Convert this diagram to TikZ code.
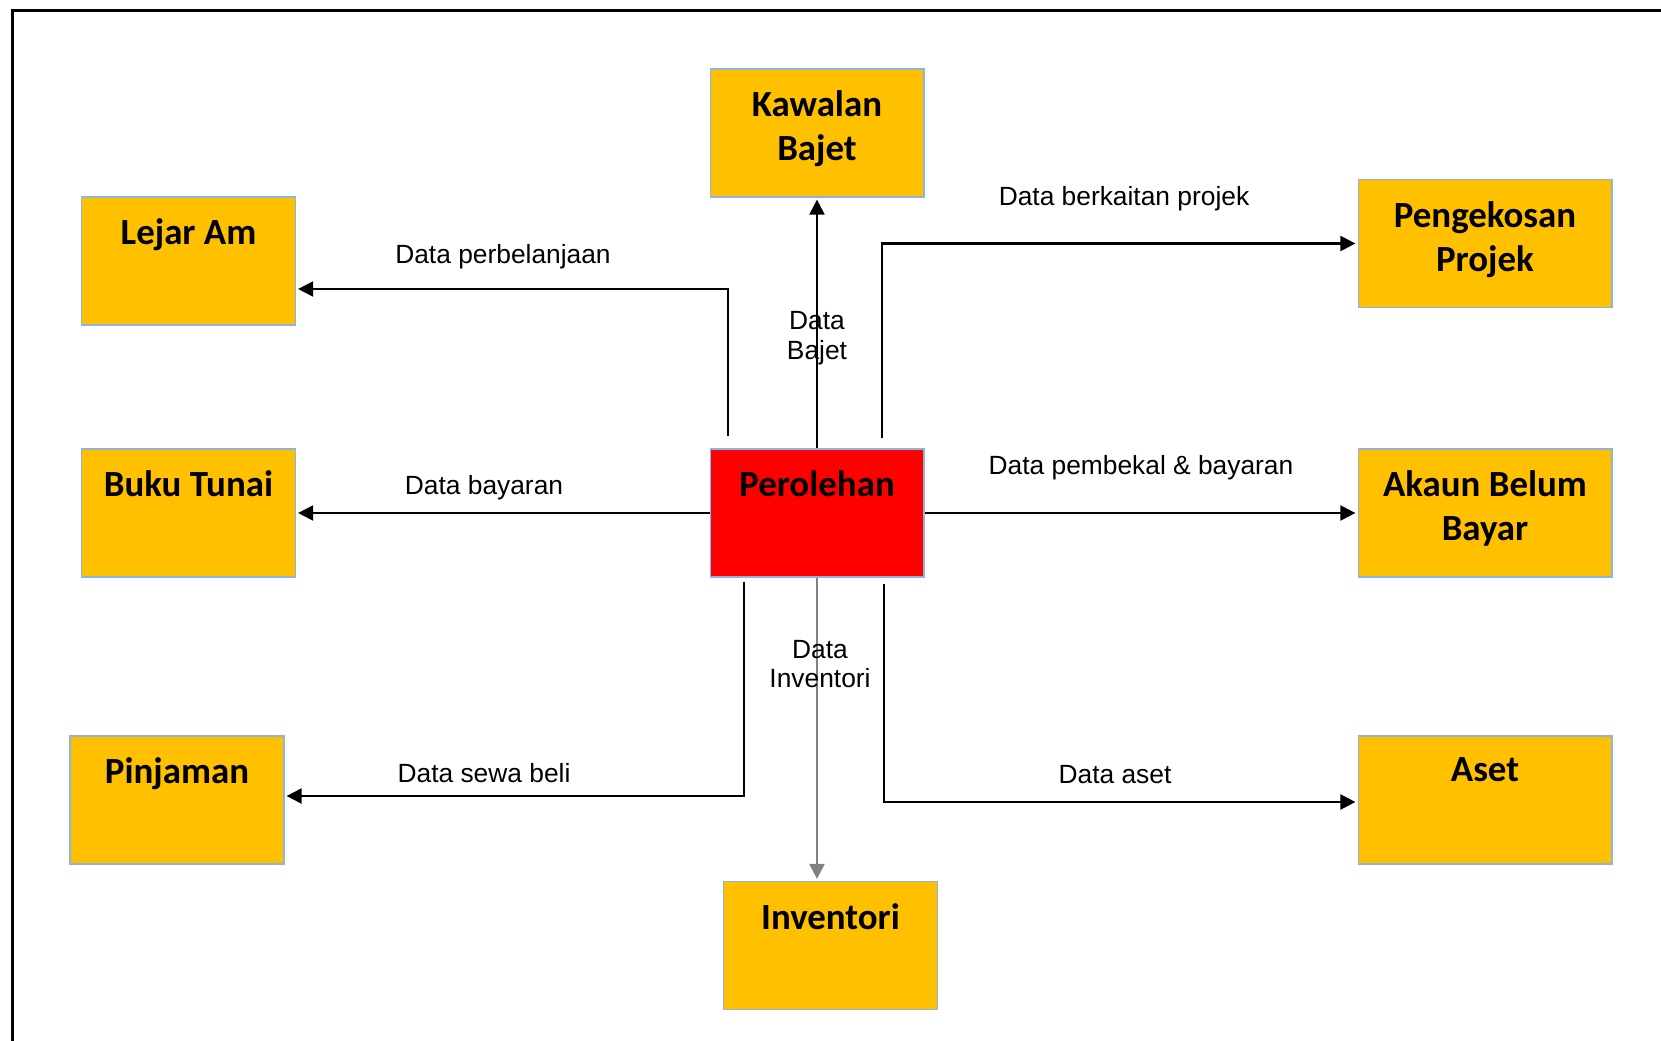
\documentclass[tikz,border=0pt]{standalone}
\usepackage{fontspec}
\setmainfont{Liberation Sans}
\newfontfamily\boxfont{Carlito}
\usepackage{tikz}
\usetikzlibrary{arrows.meta}
\usetikzlibrary{calc}
\definecolor{boxfill}{HTML}{FFC000}
\definecolor{boxline}{HTML}{8DB3E2}
\definecolor{inflow}{HTML}{808080}
\tikzset{
    box/.style={shape=rectangle, draw=boxline, line width=0.6pt, fill=boxfill, inner sep=0pt, minimum width=4.28cm, minimum height=2.56cm},
    wide/.style={minimum width=5.08cm},
    title/.style={anchor=north, inner sep=0pt, yshift=-12.5pt, align=center, font=\boxfont\bfseries\fontsize{21}{25}\selectfont},
    flow/.style={draw=black, line width=1.25pt, shorten >=1.2pt, -{Triangle[length=8.5pt, width=8.5pt]}},
    lbl/.style={align=center, font=\fontsize{15}{17}\selectfont}}

\begin{document}
\begin{tikzpicture}[x=0.02cm, y=-0.02cm]

            \useasboundingbox (0,0) rectangle (1661,1041);
            \draw[line width=1.7pt] (12.5,1041) -- (12.5,10.5) -- (1661,10.5);

            \node[box, label={[title]north:{Kawalan\\Bajet}}] (KB) at (817,133) {};
            \node[box, label={[title]north:Lejar Am}] (LA) at (188.5,261) {};
            \node[box, label={[title]north:Buku Tunai}] (BT) at (188.5,513) {};
            \node[box, label={[title]north:Pinjaman}] (PJ) at (177,800) {};
            \node[box, fill=red, label={[title]north:Perolehan}] (P) at (817,513) {};
            \node[box, label={[title]north:Inventori}] (INV) at (830.5,945.5) {};
            \node[box, wide, label={[title]north:{Pengekosan\\Projek}}] (PP) at (1485,243.5) {};
            \node[box, wide, label={[title]north:{Akaun Belum\\Bayar}}] (ABB) at (1485,513) {};
            \node[box, wide, label={[title]north:Aset}] (AS) at (1485,800) {};

            \coordinate (LAout) at ($(P.north)+(-89,-12)$);
            \coordinate (PPout) at ($(P.north)+(65,-10)$);
            \coordinate (PJout) at ($(P.south)+(-73,4)$);
            \coordinate (ASout) at ($(P.south)+(67,6)$);

            \draw[flow] (P) -- (KB);
            \draw[flow] (P) -- (BT);
            \draw[flow] (P) -- (ABB);
            \draw[flow, draw=inflow] (P) -- (P |- INV.north);
            \draw[flow] (LAout) |- ($(LA.east)+(0,28)$);
            \draw[flow] (PPout) |- (PP);
            \draw[flow] (PJout) |- ($(PJ.east)+(0,-4)$);
            \draw[flow] (ASout) |- ($(AS.west)+(0,2)$);

            \node[lbl] (Lbelanja) at (503,257) {Data perbelanjaan};
            \node[lbl] (Lprojek) at (1124,199) {Data berkaitan projek};
            \node[lbl] (Lbajet) at (817,338) {Data\\Bajet};
            \node[lbl] (Lbayaran) at (484,488) {Data bayaran};
            \node[lbl] (Lpembekal) at (1141,468) {Data pembekal \& bayaran};
            \node[lbl] (Linv) at (820,664) {Data\\Inventori};
            \node[lbl] (Lsewa) at (484,773) {Data sewa beli};
            \node[lbl] (Laset) at (1115,775) {Data aset};

        \end{tikzpicture}
\end{document}
